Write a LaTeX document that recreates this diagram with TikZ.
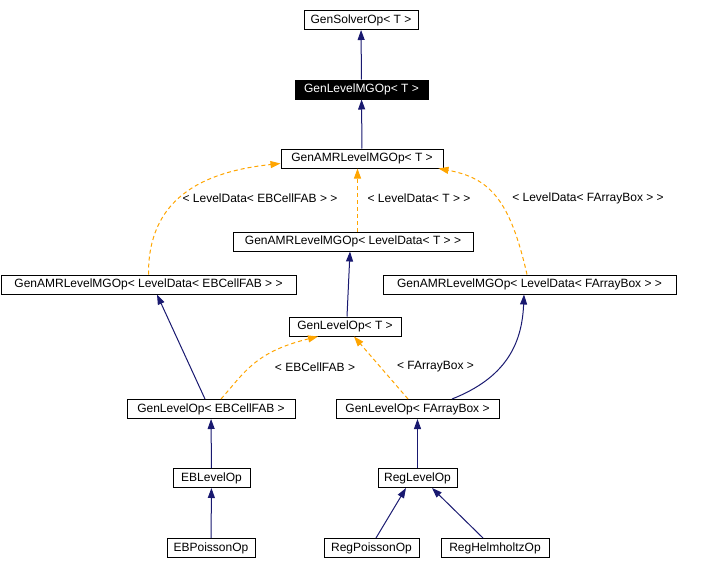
\documentclass[tikz,border=0pt]{standalone}
\usepackage{fontspec}
\setmainfont{Liberation Sans}
\usetikzlibrary{arrows.meta}
\definecolor{navy}{RGB}{25,25,112}
\definecolor{dorange}{RGB}{255,165,0}
\tikzset{
  box/.style={draw=black, line width=1pt, inner sep=0pt, minimum height=19pt, font=\fontsize{12}{14}\selectfont, fill=white},
  blackbox/.style={box, fill=black, text=white},
  inh/.style={draw=navy, line width=1pt, -{Triangle[length=10pt,width=7pt]}},
  tmpl/.style={draw=dorange, line width=1pt, dash pattern=on 4pt off 3pt, -{Triangle[length=10pt,width=7pt]}},
  lbl/.style={font=\fontsize{12}{14}\selectfont, inner sep=0pt}
}
\begin{document}
\begin{tikzpicture}[x=1pt,y=-1pt]
\useasboundingbox (0,0) rectangle (704,570);
\node[box, minimum width=114pt] (sol) at (361,20) {GenSolverOp< T >};
\node[blackbox, minimum width=133pt] (mg) at (361.5,89.5) {GenLevelMGOp< T >};
\node[box, minimum width=162pt] (amrT) at (362,158.5) {GenAMRLevelMGOp< T >};
\node[box, minimum width=240pt] (amrLDT) at (353,241.5) {GenAMRLevelMGOp< LevelData< T > >};
\node[box, minimum width=295pt] (amrEB) at (148.5,284.5) {GenAMRLevelMGOp< LevelData< EBCellFAB > >};
\node[box, minimum width=293pt] (amrFA) at (529.5,284.5) {GenAMRLevelMGOp< LevelData< FArrayBox > >};
\node[box, minimum width=112pt] (loT) at (345,326.5) {GenLevelOp< T >};
\node[box, minimum width=168pt] (loEB) at (211,409) {GenLevelOp< EBCellFAB >};
\node[box, minimum width=163pt] (loFA) at (417.5,409) {GenLevelOp< FArrayBox >};
\node[box, minimum width=77pt] (ebl) at (211.5,478) {EBLevelOp};
\node[box, minimum width=79pt] (regl) at (417.5,478) {RegLevelOp};
\node[box, minimum width=88pt] (ebp) at (211,548) {EBPoissonOp};
\node[box, minimum width=95pt] (regp) at (371.5,548) {RegPoissonOp};
\node[box, minimum width=108pt] (regh) at (495,548) {RegHelmholtzOp};

\draw[inh] (mg) -- (sol);
\draw[inh] (amrT) -- (mg);
\draw[tmpl] ([xshift=4.5pt]amrLDT.north) -- ([xshift=-4.5pt]amrT.south);
\draw[tmpl] (amrEB.north) .. controls (148,200) and (200,172) .. ([yshift=-5pt]amrT.west);
\draw[tmpl] ([xshift=-2.5pt]amrFA.north) .. controls (510,200) and (490,178) .. ([xshift=-5pt]amrT.south east);
\draw[inh] ([xshift=2pt]loT.north) -- ([xshift=-3pt]amrLDT.south);
\draw[inh] ([xshift=-6pt]loEB.north) -- ([xshift=8.5pt]amrEB.south);
\draw[inh] ([xshift=34.5pt]loFA.north) .. controls (505,378) and (522,345) .. ([xshift=-5.5pt]amrFA.south);
\draw[tmpl] ([xshift=10pt]loEB.north) .. controls (245,372) and (255,352) .. ([xshift=-27pt]loT.south);
\draw[tmpl] ([xshift=-9.5pt]loFA.north) -- ([xshift=9pt]loT.south);
\draw[inh] (ebl) -- (loEB);
\draw[inh] (regl) -- (loFA);
\draw[inh] (ebp) -- (ebl);
\draw[inh] ([xshift=4.5pt]regp.north) -- ([xshift=-11.5pt]regl.south);
\draw[inh] ([xshift=-12pt]regh.north) -- ([xshift=14.5pt]regl.south);

\node[lbl] (l1) at (260,198) {< LevelData< EBCellFAB > >};
\node[lbl] (l2) at (419,198) {< LevelData< T > >};
\node[lbl] (l3) at (588,198) {< LevelData< FArrayBox > >};
\node[lbl] (l4) at (315,367) {< EBCellFAB >};
\node[lbl] (l5) at (435.5,367) {< FArrayBox >};
\end{tikzpicture}
\end{document}
